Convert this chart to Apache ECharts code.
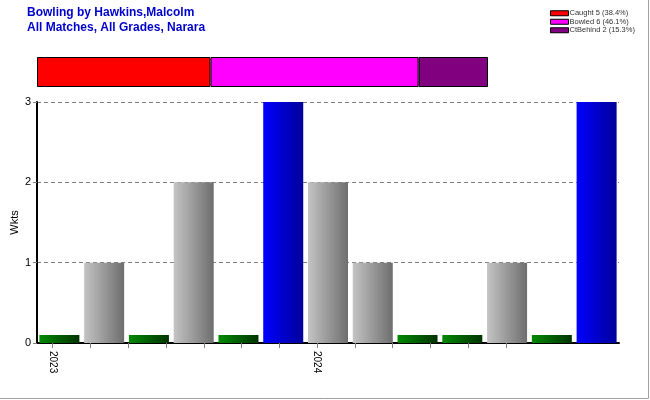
<!DOCTYPE html>
<html><head><meta charset="utf-8">
<script src="https://cdn.jsdelivr.net/npm/echarts@6/dist/echarts.min.js"></script>
<style>html,body{margin:0;padding:0;background:#fff}#c{width:650px;height:400px}</style>
</head><body><div id="c"></div>
<script>
const titleLines = ['Bowling by Hawkins,Malcolm', 'All Matches, All Grades, Narara'];
const matches = ['1','2','3','4','5','6','7','8','9','10','11','12','13'];
const wickets = [0, 1, 0, 2, 0, 3, 2, 1, 0, 0, 1, 0, 3];
const tickPositions = [0,1,2,3,4,5,6,7,8,9,10,11,12];
const yearLabels = {0: '2023', 7: '2024'};
const dismissalNames = ['Caught 5 (38.4%)', 'Bowled 6 (46.1%)', 'CtBehind 2 (15.3%)'];
const dismissalCounts = [5, 6, 2];
const dismissalColors = ['#ff0000', '#ff00ff', '#800080'];

const grad = (a, b) => ({type:'linear', x:0, y:0, x2:1, y2:0, colorStops:[{offset:0,color:a},{offset:1,color:b}]});
const gGreen = grad('#008a00', '#003300');
const gGrey = grad('#c4c4c4', '#6e6e6e');
const gBlue = grad('#0000ff', '#00009a');

const barData = wickets.map(w => {
  if (w === 0) return {value: 0.1, itemStyle: {color: gGreen}};
  if (w >= 3) return {value: w, itemStyle: {color: gBlue}};
  return {value: w, itemStyle: {color: gGrey}};
});

const chart = echarts.init(document.getElementById('c'), null, {renderer:'canvas'});
chart.setOption({
  animation: false,
  backgroundColor: '#fff',
  graphic: [
    {type:'polyline', shape:{points:[[0,398.5],[648.5,398.5],[648.5,0]]}, style:{fill:'none', stroke:'#a0a0a0', lineWidth:1}, silent:true, z:-1},
    {type:'text', left:27, top:5, style:{text:titleLines.join('\n'), fill:'#0000cc', font:'bold 12px "Liberation Sans", Arial, sans-serif', lineHeight:15}}
  ],
  legend: {
    orient:'vertical', left:550, top:9, padding:0, itemWidth:18, itemHeight:5, itemGap:0,
    icon:'rect', itemStyle:{borderColor:'#000', borderWidth:1},
    textStyle:{fontSize:7.5, lineHeight:8.5, color:'#333', fontFamily:'"Liberation Sans", Arial, sans-serif', padding:[0,0,0,-4]},
    data: dismissalNames
  },
  grid: [
    {left:37, right:31, top:102, bottom:57, outerBoundsMode:'none', containLabel:false},
    {left:37, right:162, top:57, height:30, outerBoundsMode:'none', containLabel:false},
    {left:52.7, right:144, top:102, bottom:57, outerBoundsMode:'none', containLabel:false}
  ],
  xAxis: [
    {type:'category', gridIndex:0, data:matches, axisLine:{lineStyle:{color:'#000', width:2}}, axisTick:{show:false}, axisLabel:{show:false}},
    {type:'value', gridIndex:1, min:0, max:13, show:false},
    {type:'value', gridIndex:2, min:0, max:12, interval:1, axisLine:{show:false}, splitLine:{show:false},
      axisTick:{show:true, length:5, lineStyle:{color:'#808080'}},
      axisLabel:{rotate:-90, fontSize:10, color:'#000', margin:8, fontFamily:'"Liberation Sans", Arial, sans-serif',
        formatter: v => yearLabels[v] || ''}}
  ],
  yAxis: [
    {type:'value', gridIndex:0, min:0, max:3, interval:1, name:'Wkts', nameLocation:'middle', nameGap:22, nameRotate:90, nameMoveOverlap:false,
      nameTextStyle:{fontSize:11, color:'#000', fontFamily:'"Liberation Sans", Arial, sans-serif', verticalAlign:'middle'},
      axisLine:{show:true, lineStyle:{color:'#000', width:2}},
      axisTick:{show:true, length:4, lineStyle:{color:'#808080'}},
      axisLabel:{fontSize:11, color:'#000', margin:6, fontFamily:'"Liberation Sans", Arial, sans-serif'},
      splitLine:{show:true, lineStyle:{color:'#808080', type:[4,3]}}},
    {type:'category', gridIndex:1, data:['x'], show:false},
    {type:'value', gridIndex:2, min:0, max:3, show:false}
  ],
  series: [
    {type:'bar', xAxisIndex:0, yAxisIndex:0, data:barData, barWidth:40},
    ...dismissalNames.map((n, i) => ({
      type:'bar', name:n, xAxisIndex:1, yAxisIndex:1, stack:'d', barWidth:30,
      itemStyle:{color:dismissalColors[i], borderColor:'#000', borderWidth:1},
      data:[dismissalCounts[i]]
    }))
  ]
});
</script></body></html>
